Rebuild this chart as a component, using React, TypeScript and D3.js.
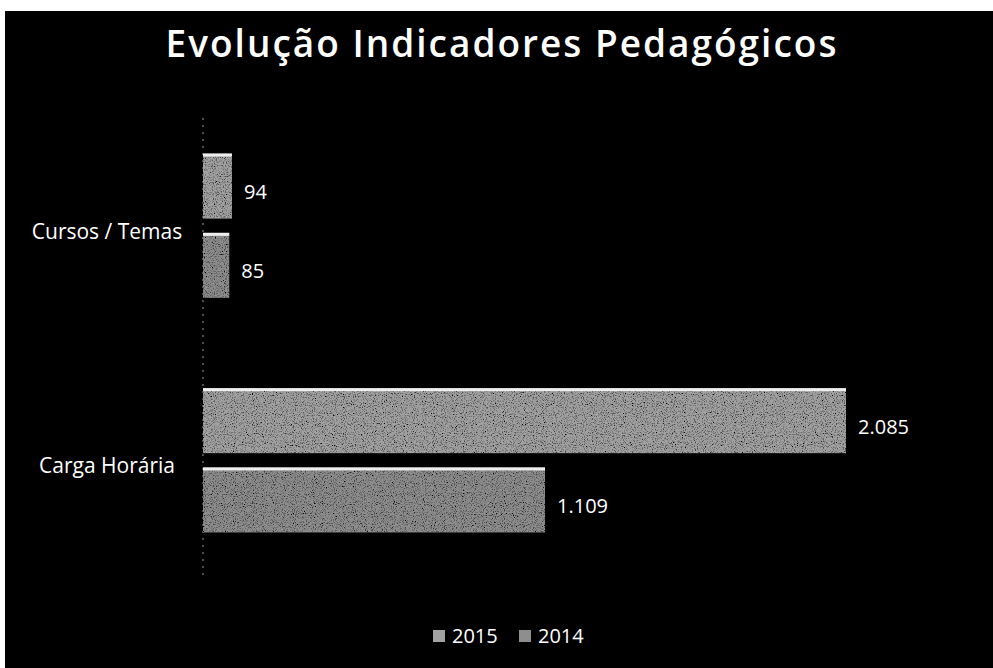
import React from "react";
import * as d3 from "d3";

const categories = ["Cursos / Temas", "Carga Horária"];
const seriesNames = ["2015", "2014"];
const values2015 = [94, 2085];
const values2014 = [85, 1109];
const valueLabels2015 = ["94", "2.085"];
const valueLabels2014 = ["85", "1.109"];
const title = "Evolução Indicadores Pedagógicos";

const W = 993;
const H = 668;

export default function App() {
  const x = d3.scaleLinear().domain([0, 2085]).range([203, 846]);
  const y = d3
    .scaleBand<string>()
    .domain(categories)
    .range([109, 577])
    .paddingInner(0.385)
    .paddingOuter(0.19);
  const ys = d3
    .scaleBand<string>()
    .domain(seriesNames)
    .range([0, y.bandwidth()])
    .paddingInner(0.18);
  const series = [
    { name: "2015", values: values2015, labels: valueLabels2015, fill: "#a2a2a2" },
    { name: "2014", values: values2014, labels: valueLabels2014, fill: "#8e8e8e" },
  ];
  const font = "'Open Sans', 'DejaVu Sans', sans-serif";
  const legendX = d3.scalePoint<string>().domain(seriesNames).range([433, 519]);

  return (
    <svg
      width={W}
      height={H}
      style={{ position: "absolute", left: 0, top: 0, background: "#fff" }}
      fontFamily={font}
    >
      <defs>
        <filter id="grain" x="0" y="0" width="100%" height="100%">
          <feTurbulence type="fractalNoise" baseFrequency="0.9" numOctaves="2" seed="3" result="n" />
          <feColorMatrix
            in="n"
            type="matrix"
            values="0 0 0 0 0  0 0 0 0 0  0 0 0 0 0  0 0 0 -3 1.6"
            result="m"
          />
          <feComposite in="m" in2="SourceGraphic" operator="in" result="c" />
          <feMerge>
            <feMergeNode in="SourceGraphic" />
            <feMergeNode in="c" />
          </feMerge>
        </filter>
      </defs>
      <rect x={5} y={11} width={W - 5} height={H - 11} fill="#000" />
      <text
        x={502}
        y={57}
        textAnchor="middle"
        fill="#fff"
        fontSize={37}
        fontWeight={600}
        letterSpacing={2}
      >
        {title}
      </text>
      <line x1={203} x2={203} y1={118} y2={577} stroke="#666" strokeWidth={1.5} strokeDasharray="2 5" />
      {categories.map((c, ci) => (
        <g key={c}>
          <text
            x={107}
            y={(y(c) ?? 0) + y.bandwidth() / 2 + 13}
            textAnchor="middle"
            fill="#fff"
            fontSize={21}
          >
            {c}
          </text>
          {series.map((s) => {
            const by = (y(c) ?? 0) + (ys(s.name) ?? 0);
            const bw = x(s.values[ci]) - x(0);
            return (
              <g key={s.name}>
                <rect
                  x={x(0)}
                  y={by}
                  width={bw}
                  height={ys.bandwidth()}
                  fill={s.fill}
                  filter="url(#grain)"
                />
                <rect x={x(0)} y={by} width={bw} height={3} fill="#eee" />
                <text
                  x={x(s.values[ci]) + 12}
                  y={by + ys.bandwidth() / 2 + 13}
                  fill="#fff"
                  fontSize={20}
                >
                  {s.labels[ci]}
                </text>
              </g>
            );
          })}
        </g>
      ))}
      {series.map((s) => (
        <g key={s.name}>
          <rect x={legendX(s.name) ?? 0} y={630} width={12} height={12} fill={s.fill} />
          <text x={(legendX(s.name) ?? 0) + 19} y={643} fill="#fff" fontSize={20}>
            {s.name}
          </text>
        </g>
      ))}
    </svg>
  );
}
